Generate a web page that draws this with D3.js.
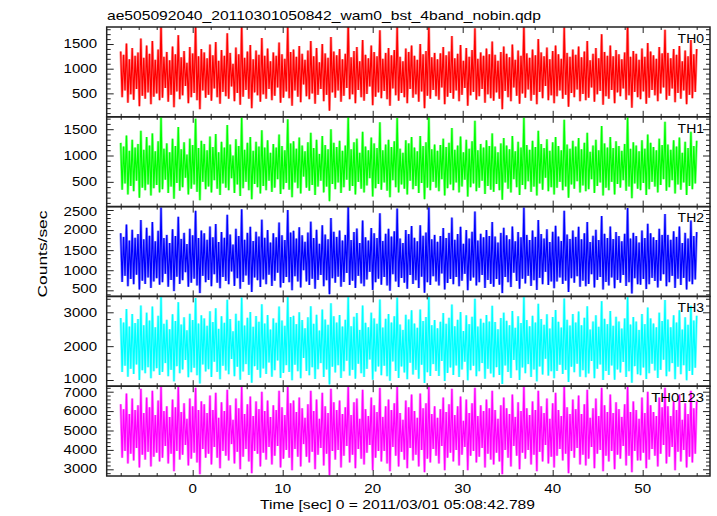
<!DOCTYPE html>
<html><head><meta charset="utf-8">
<script src="https://cdn.jsdelivr.net/npm/d3@7/dist/d3.min.js"></script>
<style>
body{margin:0;background:#fff}
svg{display:block}
text{font-family:"Liberation Sans",Arial,Helvetica,sans-serif;fill:#000}
</style>
</head><body>
<svg id="chart" width="717" height="516"></svg>
<script>
const chartTitle = "ae505092040_20110301050842_wam0_bst_4band_nobin.qdp";
const xLabel = "Time [sec] 0 = 2011/03/01 05:08:42.789";
const yLabel = "Counts/sec";
const panelNames = ["TH0", "TH1", "TH2", "TH3", "TH0123"];
const panelColors = ["#ff0000", "#00ff00", "#0000ff", "#00ffff", "#ff00ff"];
const tStart = -8, tStop = 56;
const xTickLabels = [0, 10, 20, 30, 40, 50];
const yDomains = [[25, 1845], [30, 1735], [348, 2585], [817, 3470], [2655, 7283]];
const yTickLabels = [[500, 1000, 1500], [500, 1000, 1500], [500, 1000, 1500, 2000, 2500], [1000, 2000, 3000], [3000, 4000, 5000, 6000, 7000]];
const yMinorStep = [100, 100, 100, 200, 200];

const th0 = [
1350,420,1280,560,1510,310,1190,480,1420,370,1260,590,1330,240,1610,450,1220,390,1470,520,
1300,280,1560,430,1180,500,1390,360,1950,410,1240,610,1340,330,1170,470,1450,220,1290,540,
1680,380,1230,460,1360,650,1120,300,1440,420,1310,510,1880,360,1250,180,1400,560,1330,410,
1210,470,1490,350,1270,600,1540,420,1160,290,1380,530,1260,440,1720,390,1320,640,1100,340,
1430,510,1290,270,1900,430,1220,570,1350,390,1480,200,1190,520,1370,460,1280,330,1620,480,
1260,390,1410,590,1150,360,1330,450,1260,620,1530,310,1290,410,1200,540,1850,400,1340,250,
1390,560,1240,430,1460,320,1300,680,1180,440,1370,380,1560,500,1250,290,1420,470,1130,590,
1500,340,1310,470,1220,150,1640,520,1350,410,1270,560,1400,330,1190,450,1300,610,1960,380,
1230,480,1360,300,1440,570,1150,420,1580,350,1280,490,1210,640,1470,260,1340,430,1250,520,
1780,400,1200,550,1320,380,1420,250,1270,600,1380,460,1860,350,1240,510,1150,420,1410,300,
1340,590,1470,410,1260,480,1180,330,1500,540,1290,200,1360,450,1920,390,1230,570,1320,440,
1190,370,1310,620,1440,280,1270,430,1350,510,1660,390,1210,560,1300,340,1480,470,1160,610,
1420,250,1240,460,1380,530,1820,370,1200,440,1330,590,1260,310,1410,480,1290,400,1550,350,
1280,520,1160,390,1340,180,1450,550,1300,420,1230,340,1490,620,1180,450,1370,290,1260,500,
1900,410,1310,580,1220,350,1390,470,1270,280,1600,530,1330,400,1250,650,1430,360,1190,460,
1360,300,1470,440,1290,560,1200,390,1840,470,1320,230,1240,510,1390,420,1280,580,1450,340,
1230,490,1350,360,1560,410,1170,620,1300,330,1420,480,1210,550,1700,270,1340,440,1260,390,
1470,570,1250,300,1380,520,1290,440,1190,600,1330,370,1950,460,1240,210,1360,530,1300,420,
1180,380,1410,540,1240,290,1520,410,1350,570,1270,460,1200,340,1440,500,1310,620,1790,370,
1320,450,1210,600,1400,320,1280,510,1460,390,1150,560,1370,280,1250,470,1580,400,1290,530,
1400];

const th1 = [
1240,350,1170,470,1380,260,1090,420,1300,320,1150,520,1220,200,1470,390,1110,340,1350,450,
1190,240,1420,380,1080,440,1270,300,1740,360,1130,540,1230,290,1060,410,1320,180,1180,480,
1540,330,1120,400,1250,580,1020,260,1320,370,1200,450,1700,310,1140,150,1280,500,1220,360,
1100,410,1360,300,1160,530,1410,370,1060,250,1260,470,1150,390,1580,340,1210,570,1000,290,
1310,450,1180,230,1720,380,1110,500,1240,340,1350,170,1090,460,1260,400,1170,280,1480,420,
1150,340,1290,520,1050,310,1220,390,1150,550,1400,270,1180,360,1100,480,1690,350,1230,210,
1270,490,1130,380,1340,280,1190,600,1080,390,1250,330,1430,440,1140,250,1300,410,1030,520,
1370,300,1200,410,1120,130,1500,460,1240,360,1160,490,1280,290,1090,400,1190,540,1750,330,
1120,420,1250,260,1320,500,1050,370,1450,300,1170,430,1100,570,1340,220,1230,380,1140,460,
1630,350,1100,490,1210,330,1300,210,1160,530,1270,400,1710,300,1130,450,1050,370,1290,260,
1230,520,1350,360,1150,420,1080,290,1370,480,1180,170,1250,390,1740,340,1120,500,1210,390,
1090,320,1200,550,1320,240,1160,380,1240,450,1520,340,1110,490,1190,300,1360,410,1060,540,
1300,220,1130,400,1270,470,1660,320,1100,390,1220,520,1150,270,1290,420,1180,350,1420,310,
1170,460,1060,340,1230,160,1330,490,1190,370,1120,300,1370,550,1080,400,1260,250,1150,440,
1720,360,1200,510,1110,310,1280,410,1160,240,1470,470,1220,350,1140,580,1310,320,1090,400,
1250,260,1350,390,1180,500,1100,340,1680,410,1210,200,1130,450,1280,370,1170,510,1330,300,
1120,430,1240,320,1430,360,1070,550,1190,290,1300,420,1100,490,1560,240,1230,390,1150,340,
1350,500,1140,260,1270,460,1180,390,1090,530,1220,330,1730,410,1130,190,1250,470,1190,370,
1080,340,1290,480,1130,250,1400,360,1240,500,1160,410,1100,300,1320,440,1200,550,1640,330,
1210,400,1110,530,1290,280,1170,450,1340,350,1050,490,1260,250,1140,420,1450,360,1180,470,
1280];

const th2 = [
1920,710,1830,860,2140,600,1740,780,2010,650,1810,890,1900,520,2250,740,1770,660,2060,820,
1860,560,2200,720,1720,800,1980,640,2560,700,1800,910,1880,590,1680,760,2020,480,1850,840,
2330,660,1780,750,1930,950,1650,590,2030,690,1870,790,2480,620,1800,430,1990,860,1920,700,
1760,760,2090,600,1820,900,2150,690,1700,550,1950,830,1810,730,2380,650,1890,970,1640,610,
2030,800,1850,540,2520,710,1760,870,1930,640,2080,460,1730,820,1960,750,1840,580,2260,770,
1810,650,2000,890,1690,610,1920,740,1820,940,2190,570,1870,680,1750,830,2500,700,1940,500,
1980,850,1790,720,2070,570,1870,1000,1710,720,1940,630,2210,790,1800,540,2010,760,1660,880,
2120,600,1890,750,1770,400,2300,800,1960,690,1830,840,1990,590,1740,710,1880,930,2580,630,
1750,740,1950,560,2040,860,1680,670,2240,600,1820,770,1740,960,2050,510,1920,700,1800,790,
2420,640,1730,830,1910,620,2030,490,1840,900,1970,720,2540,580,1790,810,1680,690,2000,540,
1900,880,2100,660,1810,750,1720,560,2120,840,1860,440,1940,700,2570,630,1770,850,1880,720,
1710,620,1850,920,2050,520,1800,680,1930,780,2310,650,1760,830,1900,600,2080,740,1660,910,
2000,500,1790,740,1960,820,2460,620,1740,700,1910,880,1820,560,2000,760,1850,660,2200,590,
1840,780,1690,640,1930,430,2060,830,1870,700,1770,580,2090,940,1720,730,1950,540,1820,790,
2560,670,1880,860,1750,610,1990,750,1830,510,2250,810,1900,650,1790,960,2020,630,1700,720,
1960,550,2110,720,1840,820,1730,660,2480,740,1890,460,1780,800,1990,690,1830,850,2080,590,
1770,740,1920,600,2200,660,1700,900,1860,570,2010,760,1750,830,2350,520,1910,710,1800,620,
2090,820,1780,550,1950,760,1850,690,1720,880,1910,610,2550,700,1790,420,1930,800,1850,650,
1690,640,1990,780,1800,530,2160,650,1920,810,1820,730,1750,570,2030,740,1880,900,2400,600,
1880,700,1760,860,1970,560,1830,790,2090,630,1680,810,1930,520,1790,720,2240,650,1850,770,
1950];

const th3 = [
2830,1240,2700,1420,3100,1100,2580,1330,2950,1180,2680,1460,2800,1000,3200,1290,2620,1200,2990,1380,
2760,1050,3170,1260,2560,1350,2900,1150,3460,1240,2660,1500,2780,1110,2500,1300,2940,960,2740,1410,
3300,1200,2640,1310,2850,1590,2470,1080,2960,1230,2770,1360,3420,1140,2670,900,2910,1460,2820,1250,
2600,1320,3030,1090,2710,1540,3120,1240,2510,1020,2880,1420,2690,1280,3370,1170,2800,1620,2440,1110,
2960,1390,2750,1010,3440,1250,2610,1470,2840,1150,3010,920,2570,1410,2890,1300,2720,1070,3240,1340,
2670,1180,2920,1520,2490,1100,2820,1290,2690,1580,3170,1060,2760,1210,2600,1440,3450,1240,2860,990,
2900,1450,2650,1260,3000,1050,2770,1650,2530,1270,2850,1140,3180,1380,2660,1030,2930,1320,2460,1500,
3080,1090,2790,1310,2630,870,3270,1390,2880,1220,2700,1440,2920,1060,2580,1260,2780,1570,3470,1130,
2590,1300,2870,1040,2980,1480,2480,1200,3200,1090,2690,1330,2560,1610,2990,1010,2820,1250,2660,1400,
3380,1140,2550,1420,2810,1110,2950,980,2700,1550,2880,1270,3440,1060,2640,1400,2480,1220,2930,1020,
2790,1510,3060,1160,2670,1300,2540,1040,3080,1450,2740,910,2860,1230,3460,1120,2620,1470,2770,1270,
2530,1120,2720,1560,2980,970,2660,1210,2840,1370,3230,1150,2590,1430,2780,1090,3010,1310,2450,1540,
2910,990,2650,1290,2870,1420,3400,1110,2580,1260,2810,1500,2690,1040,2920,1330,2730,1190,3190,1080,
2710,1380,2500,1150,2830,880,2990,1430,2750,1240,2620,1060,3040,1590,2540,1290,2880,1000,2680,1370,
3450,1200,2770,1470,2590,1090,2900,1310,2700,960,3250,1400,2800,1160,2630,1630,2940,1130,2520,1260,
2860,1050,3070,1270,2720,1450,2550,1180,3410,1300,2780,940,2610,1390,2950,1230,2700,1480,3020,1100,
2620,1290,2840,1080,3180,1190,2490,1560,2730,1050,2910,1330,2570,1460,3330,1000,2810,1270,2650,1150,
3040,1430,2600,1010,2870,1310,2730,1220,2520,1530,2820,1090,3460,1260,2640,920,2860,1410,2730,1170,
2480,1140,2950,1370,2650,1030,3140,1200,2820,1480,2670,1280,2560,1060,2990,1300,2740,1600,3360,1110,
2790,1250,2560,1500,2910,1020,2700,1390,3060,1170,2490,1440,2850,990,2630,1270,3190,1150,2760,1360,
2900];

const th0123 = [
6350,3600,6100,3950,6900,3300,5850,3800,6650,3450,6050,4100,6300,3100,7150,3750,5900,3500,6700,3900,
6200,3150,7050,3650,5800,3850,6550,3400,7280,3600,6000,4200,6250,3300,5700,3800,6600,2900,6200,3950,
7250,3500,5950,3750,6400,4250,5600,3200,6650,3550,6250,3850,7200,3350,6050,2750,6500,4050,6350,3600,
5900,3800,6800,3250,6050,4150,6950,3600,5650,3050,6450,3950,6000,3700,7100,3450,6300,4300,5550,3300,
6650,3900,6150,3000,7270,3650,5850,4050,6350,3400,6750,2800,5750,3950,6500,3800,6100,3150,7000,3850,
6000,3500,6550,4150,5700,3250,6300,3700,6050,4200,7050,3100,6200,3550,5800,4000,7270,3600,6400,2950,
6550,4050,5950,3650,6700,3150,6150,4300,5650,3650,6350,3350,7050,3900,6000,3000,6600,3750,5600,4100,
6950,3200,6250,3800,5900,2700,7150,3950,6450,3500,6050,4000,6550,3100,5850,3700,6200,4200,7280,3350,
5800,3750,6450,3050,6650,4050,5600,3550,7100,3250,6100,3850,5750,4250,6700,2950,6300,3600,5950,3950,
7200,3400,5700,3950,6250,3300,6600,2900,6050,4150,6400,3700,7270,3150,5900,3900,5550,3500,6550,3050,
6200,4100,6850,3450,6000,3750,5650,3150,6900,4000,6150,2850,6400,3550,7250,3350,5850,4050,6250,3700,
5650,3300,6100,4200,6700,2950,5950,3600,6350,3850,7150,3400,5800,4000,6250,3200,6750,3750,5500,4150,
6600,2950,5900,3700,6400,3950,7200,3350,5750,3650,6300,4100,6000,3100,6600,3800,6150,3500,7050,3250,
6050,3850,5600,3400,6300,2750,6700,4000,6150,3600,5850,3150,6850,4200,5700,3700,6450,3000,6000,3850,
7270,3550,6150,4000,5800,3250,6500,3750,6050,2900,7050,3900,6250,3400,5900,4250,6650,3300,5600,3650,
6400,3100,6950,3700,6050,4050,5750,3450,7250,3800,6200,2800,5850,3950,6600,3600,6100,4100,6800,3250,
5850,3750,6350,3200,7100,3550,5650,4150,6150,3050,6650,3800,5750,4000,7200,2900,6300,3700,5950,3400,
6850,3950,5900,3000,6450,3750,6100,3550,5700,4200,6350,3200,7280,3700,5950,2850,6500,3950,6050,3450,
5600,3450,6700,3850,5900,3050,7000,3500,6300,4050,5950,3700,5750,3150,6700,3800,6200,4250,7200,3300,
6250,3650,5750,4150,6500,2950,6050,3900,6850,3400,5550,4000,6400,3100,5850,3650,7050,3350,6150,3800,
6500];

const seriesList = [th0, th1, th2, th3, th0123];

// ---- layout ----
const L = 106.7, R = 710, T = 27, B = 476;
const nP = panelNames.length;
const pH = (B - T) / nP;
const frameColor = "#222";

const svg = d3.select("#chart");
const x = d3.scaleLinear().domain([-9.556, 57.48]).range([L, R]);
const xMinor = d3.range(-8, 57, 2).filter(v => v % 10 !== 0);

function stretchedText(g, str, px, opts) {
  const t = g.append("text").text(str);
  t.attr("font-size", opts.size || 13)
   .attr("textLength", str.length * px)
   .attr("lengthAdjust", "spacingAndGlyphs");
  return t;
}

const defs = svg.append("defs");

seriesList.forEach((vals, i) => {
  const top = T + i * pH, bot = top + pH;
  const y = d3.scaleLinear().domain(yDomains[i]).range([bot, top]);
  const n = vals.length;
  const tOf = d3.scaleLinear().domain([0, n - 1]).range([tStart, tStop]);

  defs.append("clipPath").attr("id", "clip" + i)
    .append("rect").attr("x", L).attr("y", top).attr("width", R - L).attr("height", pH);

  const line = d3.line().x((d, k) => x(tOf(k))).y(d => y(d));
  const gl = svg.append("g").attr("clip-path", "url(#clip" + i + ")");
  // soft halo (antialiased look of the dense original trace)
  gl.append("path").datum(vals)
    .attr("d", line)
    .attr("fill", "none")
    .attr("stroke", panelColors[i])
    .attr("stroke-opacity", 0.45)
    .attr("stroke-width", 2.6)
    .attr("stroke-linejoin", "bevel");
  gl.append("path").datum(vals)
    .attr("d", line)
    .attr("fill", "none")
    .attr("stroke", panelColors[i])
    .attr("stroke-width", 1.2)
    .attr("stroke-linejoin", "bevel");

  // y ticks
  const majors = yTickLabels[i];
  const minors = d3.range(Math.ceil(yDomains[i][0] / yMinorStep[i]) * yMinorStep[i], yDomains[i][1], yMinorStep[i])
    .filter(v => !majors.includes(v));
  const addAxis = (axisFn, tx, vals2, size) => {
    const g = svg.append("g").attr("transform", `translate(${tx},0)`)
      .call(axisFn(y).tickValues(vals2).tickSize(size).tickFormat(""));
    g.select(".domain").remove();
    g.selectAll("line").attr("stroke", frameColor);
  };
  addAxis(d3.axisRight, L, minors, 4);
  addAxis(d3.axisRight, L, majors, 7);
  addAxis(d3.axisLeft, R, minors, 4);
  addAxis(d3.axisLeft, R, majors, 7);

  // x ticks at top (pointing down) and bottom (pointing up)
  const addX = (axisFn, ty, vals2, size) => {
    const g = svg.append("g").attr("transform", `translate(0,${ty})`)
      .call(axisFn(x).tickValues(vals2).tickSize(size).tickFormat(""));
    g.select(".domain").remove();
    g.selectAll("line").attr("stroke", frameColor);
  };
  addX(d3.axisBottom, top, xMinor, 3);
  addX(d3.axisBottom, top, xTickLabels, 6);
  addX(d3.axisTop, bot, xMinor, 3);
  addX(d3.axisTop, bot, xTickLabels, 6);

  // y tick labels (nudged slightly away from panel edges so neighbours don't collide)
  const lg = svg.append("g");
  majors.forEach(v => {
    const yy = y(v);
    const nudge = yy > bot - 8 ? -1.2 : (yy < top + 8 ? 1.2 : 0);
    stretchedText(lg, String(v), 8.35, {size: 12})
      .attr("x", 97).attr("y", yy + 4.4 + nudge).attr("text-anchor", "end");
  });

  // frame
  svg.append("rect").attr("x", L).attr("y", top).attr("width", R - L).attr("height", pH)
    .attr("fill", "none").attr("stroke", frameColor).attr("stroke-width", 1.5);

  // panel name
  stretchedText(svg, panelNames[i], 8.8, {size: 13})
    .attr("x", 704).attr("y", top + 15.7).attr("text-anchor", "end");
});

// x tick labels
xTickLabels.forEach(v => {
  stretchedText(svg, String(v), 8.4, {size: 13})
    .attr("x", x(v)).attr("y", 493).attr("text-anchor", "middle");
});

// titles
stretchedText(svg, chartTitle, 434 / chartTitle.length, {size: 13})
  .attr("x", 107).attr("y", 20);
stretchedText(svg, xLabel, 275 / xLabel.length, {size: 13})
  .attr("x", 260).attr("y", 509);
stretchedText(svg, yLabel, 87 / yLabel.length, {size: 13})
  .attr("text-anchor", "middle")
  .attr("transform", "translate(47,254) rotate(-90)");
</script>
</body></html>
